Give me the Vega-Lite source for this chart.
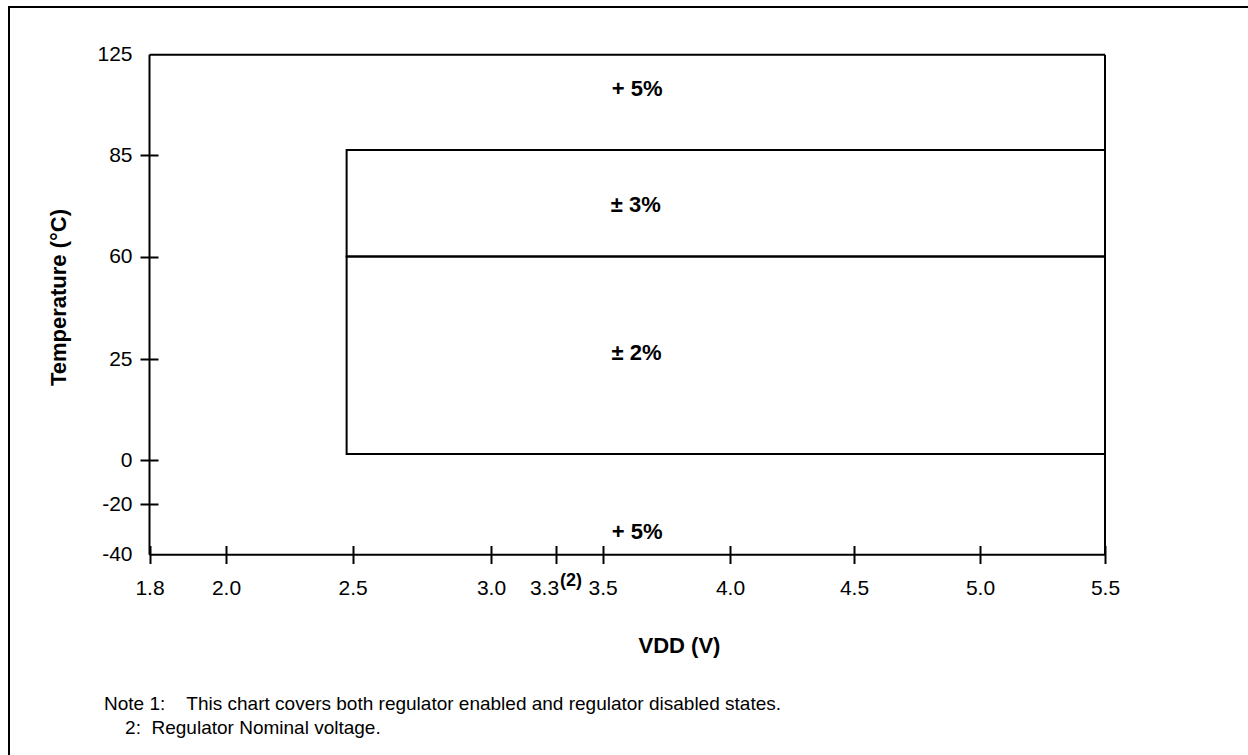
{
  "$schema": "https://vega.github.io/schema/vega-lite/v6.json",
  "width": 1250,
  "height": 760,
  "autosize": {"type": "none"},
  "padding": {"left": 9, "top": 7, "right": -11, "bottom": -12},
  "background": "#ffffff",
  "config": {
    "view": {"stroke": "#000000", "strokeWidth": 2},
    "axis": {"grid": false},
    "font": "Liberation Sans"
  },
  "datasets": {
    "zones": [
      {"zone": "± 2%", "v": 2.476, "v2": 5.5, "t": 1.5, "t2": 60},
      {"zone": "± 3%", "v": 2.476, "v2": 5.5, "t": 60, "t2": 87}
    ],
    "box": [
      {"edge": "top", "v": 1.8, "v2": 5.5, "t": 125, "t2": 125},
      {"edge": "bottom", "v": 1.8, "v2": 5.5, "t": -40, "t2": -40},
      {"edge": "left", "v": 1.8, "v2": 1.8, "t": -40, "t2": 125},
      {"edge": "right", "v": 5.5, "v2": 5.5, "t": -40, "t2": 125}
    ],
    "labels": [
      {"label": "+ 5%", "v": 3.635, "t": 111.3},
      {"label": "± 3%", "v": 3.63, "t": 72.8},
      {"label": "± 2%", "v": 3.633, "t": 27},
      {"label": "+ 5%", "v": 3.635, "t": -31}
    ],
    "marks": [
      {"label": "(2)", "v": 3.3, "t": -40}
    ]
  },
  "title": {
    "text": [
      "Note 1:\u00a0\u00a0\u00a0\u00a0This chart covers both regulator enabled and regulator disabled states.",
      "\u200b\u00a0\u00a0\u00a0\u00a02:\u00a0\u00a0Regulator Nominal voltage."
    ],
    "orient": "bottom",
    "anchor": "start",
    "frame": "group",
    "align": "left",
    "baseline": "top",
    "offset": -72,
    "dx": 95,
    "font": "Liberation Sans",
    "fontSize": 19,
    "fontWeight": "normal",
    "lineHeight": 24,
    "color": "#000000"
  },
  "layer": [
    {
      "data": {"name": "zones"},
      "mark": {"type": "rect", "filled": false, "stroke": "#000000", "strokeWidth": 2},
      "encoding": {
        "x": {
          "field": "v", "type": "quantitative",
          "scale": {
            "domain": [1.8, 2.0, 2.5, 3.0, 3.3, 3.5, 4.0, 4.5, 5.0, 5.5],
            "range": [140.5, 217, 343.7, 482, 547, 593.7, 721, 845, 971, 1096],
            "nice": false, "zero": false
          },
          "axis": {
            "orient": "bottom",
            "offset": -221.5,
            "values": [1.8, 2.0, 2.5, 3.0, 3.3, 3.5, 4.0, 4.5, 5.0, 5.5],
            "labelExpr": "format(datum.value, '.1f')",
            "domain": false,
            "grid": false,
            "tickSize": 18,
            "tickWidth": 2,
            "tickColor": "#000000",
            "labelFont": "Liberation Sans",
            "labelFontSize": 21,
            "labelColor": "#000000",
            "labelPadding": 14,
            "labelFlush": false,
            "labelOverlap": false,
            "labelOffset": {"condition": {"test": "datum.value == 3.3", "value": -12}, "value": 0},
            "title": "VDD (V)",
            "titleFont": "Liberation Sans",
            "titleFontSize": 22,
            "titleFontWeight": "bold",
            "titleColor": "#000000",
            "titleX": 670,
            "titleY": 90,
            "titleAlign": "center",
            "titleBaseline": "top"
          }
        },
        "x2": {"field": "v2"},
        "y": {
          "field": "t", "type": "quantitative",
          "scale": {
            "domain": [-40, -20, 0, 25, 60, 85, 125],
            "range": [547.7, 497, 453, 352, 249.5, 148, 47.7],
            "nice": false, "zero": false
          },
          "axis": {
            "orient": "left",
            "offset": -149,
            "values": [-40, -20, 0, 25, 60, 85, 125],
            "labelExpr": "toString(datum.value)",
            "domain": false,
            "grid": false,
            "tickSize": 18,
            "tickWidth": 2,
            "tickColor": "#000000",
            "tickOpacity": {"condition": {"test": "datum.value == 125 || datum.value == -40", "value": 0}, "value": 1},
            "labelFont": "Liberation Sans",
            "labelFontSize": 21,
            "labelColor": "#000000",
            "labelPadding": 8,
            "labelFlush": false,
            "labelOverlap": false,
            "title": "Temperature (°C)",
            "titleFont": "Liberation Sans",
            "titleFontSize": 22,
            "titleFontWeight": "bold",
            "titleColor": "#000000",
            "titlePadding": 26,
            "titleY": 290
          }
        },
        "y2": {"field": "t2"}
      }
    },
    {
      "data": {"name": "box"},
      "mark": {"type": "rule", "stroke": "#000000", "strokeWidth": 2},
      "encoding": {
        "x": {"field": "v", "type": "quantitative"},
        "x2": {"field": "v2"},
        "y": {"field": "t", "type": "quantitative"},
        "y2": {"field": "t2"}
      }
    },
    {
      "data": {"name": "labels"},
      "mark": {"type": "text", "font": "Liberation Sans", "fontSize": 22, "fontWeight": "bold", "color": "#000000", "align": "center", "baseline": "middle"},
      "encoding": {
        "x": {"field": "v", "type": "quantitative"},
        "y": {"field": "t", "type": "quantitative"},
        "text": {"field": "label"}
      }
    },
    {
      "data": {"name": "marks"},
      "mark": {"type": "text", "font": "Liberation Sans", "fontSize": 18, "fontWeight": "bold", "color": "#000000", "align": "left", "baseline": "middle", "dx": 4, "dy": 26},
      "encoding": {
        "x": {"field": "v", "type": "quantitative"},
        "y": {"field": "t", "type": "quantitative"},
        "text": {"field": "label"}
      }
    }
  ]
}
